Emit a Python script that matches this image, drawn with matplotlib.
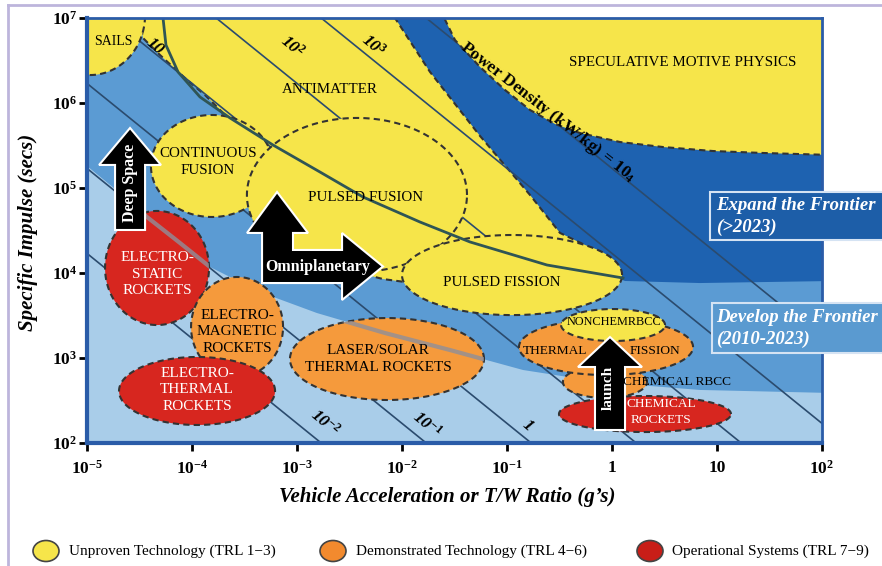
import numpy as np
import matplotlib
matplotlib.use("Agg")
import matplotlib.pyplot as plt
from matplotlib.patches import Polygon, Ellipse, Rectangle
from matplotlib.lines import Line2D
from matplotlib.ticker import NullLocator

plt.rcParams['font.family'] = ['Liberation Serif', 'DejaVu Serif']
plt.rcParams['mathtext.fontset'] = 'custom'
plt.rcParams['mathtext.rm'] = 'Liberation Serif'
plt.rcParams['mathtext.bf'] = 'Liberation Serif:bold'
plt.rcParams['mathtext.it'] = 'Liberation Serif:italic'
plt.rcParams['mathtext.bfit'] = 'Liberation Serif:bold:italic'

# ---------------------------------------------------------------- data
x_decades = [-5, -4, -3, -2, -1, 0, 1, 2]
x_tick_labels = [r'$\mathbf{10^{-5}}$', r'$\mathbf{10^{-4}}$', r'$\mathbf{10^{-3}}$',
                 r'$\mathbf{10^{-2}}$', r'$\mathbf{10^{-1}}$', '1', '10', r'$\mathbf{10^{2}}$']
y_decades = [2, 3, 4, 5, 6, 7]
y_tick_labels = [r'$\mathbf{10^{%d}}$' % k for k in y_decades]

# power density lines (kW/kg): (T/W) * Isp = k * P
power_levels = [1e-2, 1e-1, 1.0, 10.0, 1e2, 1e3, 1e4]
tw_isp_per_kw = 17.0

# technology regions (ellipses in log10 T/W, log10 Isp space)
tech_names = ['SAILS', 'CONTINUOUS FUSION', 'PULSED FUSION', 'PULSED FISSION',
              'ELECTROSTATIC', 'ELECTROMAGNETIC', 'ELECTROTHERMAL', 'LASER/SOLAR',
              'CHEMICAL RBCC', 'THERMAL FISSION', 'NONCHEM RBCC', 'CHEMICAL ROCKETS']
tech_trl = ['low', 'low', 'low', 'low',
            'high', 'mid', 'high', 'mid',
            'mid', 'mid', 'low', 'high']
tech_log_tw = [-4.971, -3.810, -2.429, -0.952, -4.333, -3.571, -3.952, -2.143,
               -0.067, -0.057, 0.010, 0.314]
tech_log_isp = [7.035, 5.259, 4.918, 3.976, 4.059, 3.365, 2.612, 2.988,
                2.718, 3.129, 3.388, 2.341]
tech_half_w = [0.524, 0.581, 1.048, 1.048, 0.495, 0.438, 0.743, 0.924,
               0.400, 0.829, 0.495, 0.819]
tech_half_h = [0.706, 0.600, 0.906, 0.471, 0.671, 0.588, 0.400, 0.482,
               0.188, 0.329, 0.188, 0.212]

# frontier band boundaries (log10 T/W, log10 Isp)
develop_edge_tw = [-5.1, -5.0, -4.686, -4.429, -4.114, -3.829, -3.352, -2.810,
                   -2.162, -1.543, -0.848, -0.114, 0.838, 2.1]
develop_edge_isp = [5.355, 5.259, 4.941, 4.659, 4.353, 4.071, 3.776, 3.529,
                    3.294, 3.094, 2.859, 2.718, 2.624, 2.588]
expand_edge_tw = [-2.2, 2.1, 2.1, 0.838, 0.124, -0.495]
expand_edge_isp = [7.1, 7.1, 3.906, 3.882, 3.906, 4.2]

antimatter_tw = [-4.495, -4.467, -4.305, -4.067, -3.876, -3.714, -3.495, -2.971,
                 -2.590, -2.181, -1.971, -1.733, -0.495, -0.114, -0.257, -0.495,
                 -0.781, -1.257, -1.733, -2.067]
antimatter_isp = [7.0, 6.765, 6.565, 6.294, 6.094, 5.894, 5.329, 4.388,
                  4.059, 3.929, 3.894, 3.682, 3.682, 4.129, 4.329, 4.471,
                  4.918, 5.612, 6.365, 7.0]

speculative_tw = [-1.638, -1.495, -1.257, -1.019, -0.781, -0.543, -0.305, 0.076,
                  0.486, 0.962, 1.438, 2.1, 2.1]
speculative_isp = [7.1, 6.741, 6.424, 6.153, 5.918, 5.753, 5.647, 5.541,
                   5.482, 5.435, 5.412, 5.388, 7.1]

fusion_curve_tw = [-4.276, -4.248, -4.133, -3.924, -3.638, -3.229, -2.781, -2.371,
                   -1.829, -1.352, -0.619, 0.105]
fusion_curve_isp = [7.0, 6.682, 6.365, 6.071, 5.824, 5.506, 5.188, 4.894,
                    4.600, 4.365, 4.094, 3.941]

legend_labels = ['Unproven Technology (TRL 1\u22123)',
                 'Demonstrated Technology (TRL 4\u22126)',
                 'Operational Systems (TRL 7\u22129)']

# ---------------------------------------------------------------- styles
YELLOW = '#f6e54a'
ORANGE = '#f59a3c'
RED = '#d7261f'
LIGHT = '#a9cde9'
MEDIUM = '#5b9bd3'
DARK = '#1e62b0'
OUTLINE = '#333333'
trl_color = {'low': YELLOW, 'mid': ORANGE, 'high': RED}
DASH = (0, (3, 2))


def pts(lx, ly):
    return np.column_stack([10.0 ** np.asarray(lx), 10.0 ** np.asarray(ly)])


def ellipse_pts(cx, cy, a, b, n=240):
    t = np.linspace(0, 2 * np.pi, n)
    return pts(cx + a * np.cos(t), cy + b * np.sin(t))


fig = plt.figure(figsize=(8.82, 5.66), dpi=100)
fig.patch.set_facecolor('white')
ax = fig.add_axes([87 / 882, 1 - 443 / 566, 735 / 882, 425 / 566])
ax.set_xscale('log')
ax.set_yscale('log')
ax.set_xlim(1e-5, 1e2)
ax.set_ylim(1e2, 1e7)
ax.set_facecolor(LIGHT)

# frontier bands
dev = pts(develop_edge_tw + [2.1, -5.1], develop_edge_isp + [7.1, 7.1])
ax.add_patch(Polygon(dev, closed=True, fc=MEDIUM, ec='none', zorder=1))
ax.add_patch(Polygon(pts(expand_edge_tw, expand_edge_isp), closed=True,
                     fc=DARK, ec='none', zorder=2))

# antimatter domain
anti = Polygon(pts(antimatter_tw, antimatter_isp), closed=True, fc=YELLOW,
               ec=OUTLINE, lw=1.5, ls=DASH, zorder=2.5)
ax.add_patch(anti)

# power density lines
xs = np.logspace(-5.1, 2.1, 200)
for p in power_levels:
    ax.plot(xs, tw_isp_per_kw * p / xs, color='#2b4b6e', lw=1.2, zorder=3)

# speculative physics domain
ax.add_patch(Polygon(pts(speculative_tw, speculative_isp), closed=True, fc=YELLOW,
                     ec=OUTLINE, lw=1.5, ls=DASH, zorder=3.5))

# technology ellipses
patches = {}
for i, name in enumerate(tech_names):
    poly = Polygon(ellipse_pts(tech_log_tw[i], tech_log_isp[i], tech_half_w[i], tech_half_h[i]),
                   closed=True, fc=trl_color[tech_trl[i]], ec=OUTLINE, lw=1.5, ls=DASH,
                   zorder=4 + 0.05 * i)
    ax.add_patch(poly)
    patches[name] = poly

# faint band edge seen through the ellipses it crosses
edge_x = 10.0 ** np.array(develop_edge_tw)
edge_y = 10.0 ** np.array(develop_edge_isp)
for name in ['ELECTROSTATIC', 'LASER/SOLAR', 'THERMAL FISSION']:
    ln, = ax.plot(edge_x, edge_y, color='#8f8f9a', lw=3, alpha=0.8, zorder=5)
    ln.set_clip_path(patches[name])

# fusion limit curve
ax.plot(10.0 ** np.array(fusion_curve_tw), 10.0 ** np.array(fusion_curve_isp),
        color='#2f5555', lw=2, zorder=5.5)


# arrows
def arrow_poly(verts):
    lx, ly = zip(*verts)
    return Polygon(pts(lx, ly), closed=True, fc='black', ec='white', lw=1.5, zorder=7)


def up_arrow(cx, base, tip, head_base, shaft_hw, head_hw):
    return [(cx - shaft_hw, base), (cx + shaft_hw, base), (cx + shaft_hw, head_base),
            (cx + head_hw, head_base), (cx, tip), (cx - head_hw, head_base),
            (cx - shaft_hw, head_base)]


ax.add_patch(arrow_poly(up_arrow(-4.590, 4.506, 5.706, 5.271, 0.143, 0.295)))
ax.add_patch(arrow_poly(up_arrow(-0.019, 2.153, 3.247, 2.894, 0.143, 0.305)))
ax.add_patch(arrow_poly([(-3.190, 4.953), (-2.895, 4.471), (-3.038, 4.471), (-3.038, 4.271),
                         (-2.571, 4.271), (-2.571, 4.471), (-2.181, 4.077), (-2.571, 3.682),
                         (-2.571, 3.882), (-3.333, 3.882), (-3.333, 4.471), (-3.476, 4.471)]))


def label(text, lx, ly, color='black', size=10.8, **kw):
    ax.text(10.0 ** lx, 10.0 ** ly, text, color=color, fontsize=size, ha='center',
            va='center', zorder=8, linespacing=1.35, **kw)


label('SAILS', -4.752, 6.718, size=10)
label('ANTIMATTER', -2.686, 6.153)
label('SPECULATIVE MOTIVE PHYSICS', 0.676, 6.471)
label('CONTINUOUS\nFUSION', -3.848, 5.306)
label('PULSED FUSION', -2.343, 4.894)
label('PULSED FISSION', -1.048, 3.894)
label('NONCHEMRBCC', 0.019, 3.424, size=8.8)
label('THERMAL', -0.543, 3.082, size=9.6)
label('FISSION', 0.410, 3.082, size=9.6)
label('CHEMICAL RBCC', 0.619, 2.718, size=9.6)
label('CHEMICAL\nROCKETS', 0.467, 2.365, color='white', size=9.6)
label('LASER/SOLAR\nTHERMAL ROCKETS', -2.229, 2.988, size=11)
label('ELECTRO-\nMAGNETIC\nROCKETS', -3.571, 3.306, size=11)
label('ELECTRO-\nSTATIC\nROCKETS', -4.333, 3.988, color='white', size=11)
label('ELECTRO-\nTHERMAL\nROCKETS', -3.952, 2.624, color='white', size=11)
label('Deep Space', -4.590, 5.059, color='white', size=11.5, fontweight='bold', rotation=90)
label('Omniplanetary', -2.800, 4.071, color='white', size=11.5, fontweight='bold')
label('launch', -0.038, 2.647, color='white', size=11, fontweight='bold', rotation=90)

# power density labels
for txt, lx, ly in [('10', -4.352, 6.659), (r'10$^{\mathbf{2}}$', -3.048, 6.659),
                    (r'10$^{\mathbf{3}}$', -2.276, 6.671), (r'10$^{\mathbf{-2}}$', -2.733, 2.235),
                    (r'10$^{\mathbf{-1}}$', -1.762, 2.212), ('1', -0.800, 2.200)]:
    label(txt, lx, ly, size=12.5, fontweight='bold', fontstyle='italic', rotation=-40)
label(r'Power Density (kW/kg) = 10$_{\mathbf{4}}$', -0.610, 5.894, size=12.5,
      fontweight='bold', rotation=-38)

# axes styling
ax.set_xticks([10.0 ** k for k in x_decades])
ax.set_xticklabels(x_tick_labels)
ax.set_yticks([10.0 ** k for k in y_decades])
ax.set_yticklabels(y_tick_labels)
ax.xaxis.set_minor_locator(NullLocator())
ax.yaxis.set_minor_locator(NullLocator())
for lab in ax.get_xticklabels() + ax.get_yticklabels():
    lab.set_fontweight('bold')
ax.tick_params(axis='both', which='major', direction='out', length=6, width=2,
               color='black', labelsize=12.5)
ax.tick_params(axis='x', pad=6)
ax.tick_params(axis='y', pad=1)
for side, w in [('left', 3), ('bottom', 3), ('top', 2), ('right', 2)]:
    ax.spines[side].set_color('#2a5ca8')
    ax.spines[side].set_linewidth(w)
    ax.spines[side].set_zorder(9)

fig.text(447 / 882, 1 - 497 / 566, "Vehicle Acceleration or T/W Ratio (g\u2019s)",
         ha='center', va='center', fontsize=15, fontweight='bold', fontstyle='italic')
fig.text(28 / 882, 1 - 232 / 566, 'Specific Impulse (secs)', ha='center', va='center',
         rotation=90, fontsize=15, fontweight='bold', fontstyle='italic')

# overlay in pixel units for frame, boxes and legend
ov = fig.add_axes([0, 0, 1, 1], zorder=10)
ov.set_xlim(0, 882)
ov.set_ylim(566, 0)
ov.axis('off')
ov.patch.set_alpha(0)
ov.add_line(Line2D([8, 882], [5, 5], color='#bdb5dc', lw=2))
ov.add_line(Line2D([8, 8], [5, 566], color='#bdb5dc', lw=2))

ov.add_patch(Rectangle((710, 192), 180, 48, fc='#1d5ea8', ec='#d5e3f3', lw=1.5))
ov.text(716, 205, 'Expand the Frontier', color='white', fontsize=13.5,
        fontweight='bold', fontstyle='italic', va='center')
ov.text(716, 227, '(>2023)', color='white', fontsize=13.5,
        fontweight='bold', fontstyle='italic', va='center')
ov.add_patch(Rectangle((712, 303), 180, 50, fc='#5a9ad0', ec='#d5e3f3', lw=1.5))
ov.text(716, 317, 'Develop the Frontier', color='white', fontsize=13.5,
        fontweight='bold', fontstyle='italic', va='center')
ov.text(716, 339, '(2010-2023)', color='white', fontsize=13.5,
        fontweight='bold', fontstyle='italic', va='center')

for cx, tx, col, txt in zip([46, 333, 650], [69, 356, 672], [YELLOW, '#f28a2e', '#c81e18'],
                            legend_labels):
    ov.add_patch(Ellipse((cx, 551), 26, 21, fc=col, ec='#444444', lw=1.2))
    ov.text(tx, 551, txt, fontsize=11, va='center', ha='left')

fig.savefig('out.png', dpi=100)
